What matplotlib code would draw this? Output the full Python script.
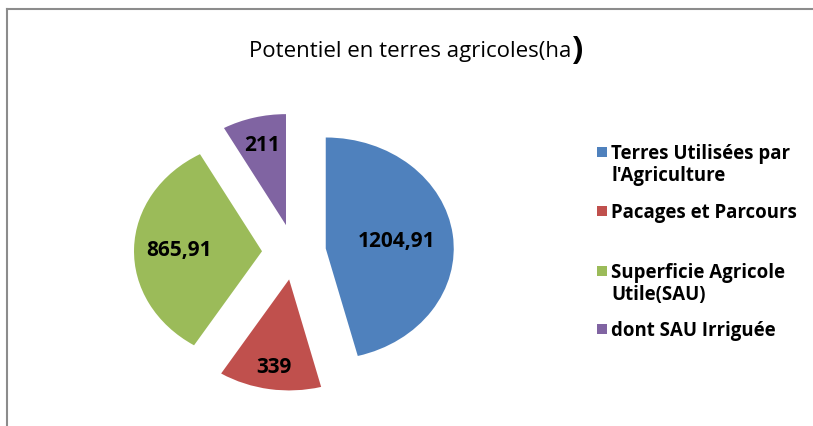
import matplotlib
matplotlib.use("Agg")
import numpy as np
import matplotlib.pyplot as plt
from matplotlib.lines import Line2D
from matplotlib.patches import Rectangle

categories = ["Terres Utilisées par\nl'Agriculture", "Pacages et Parcours",
              "Superficie Agricole\nUtile(SAU)", "dont SAU Irriguée"]
values = [1204.91, 339, 865.91, 211]
value_labels = ["1204,91", "339", "865,91", "211"]
colors = ["#4F81BD", "#C0504D", "#9BBB59", "#8064A2"]

# label placement (fraction of radius from each wedge's apex), Excel-like
label_dist = [0.56, 0.79, 0.65, 0.75]

plt.rcParams['font.family'] = ['Open Sans', 'DejaVu Sans']

W, H = 813, 427
fig = plt.figure(figsize=(W / 100, H / 100), dpi=100)
fig.patch.set_facecolor("white")

# pie axes (elliptical pie like the reference)
cx, cy, rx, ry = 294, 253, 128, 111
xl, yl = 1.6, 1.4
ax = fig.add_axes([(cx - xl * rx) / W, (H - cy - yl * ry) / H, 2 * xl * rx / W, 2 * yl * ry / H])

wedges, _ = ax.pie(values, colors=colors, startangle=90, counterclock=False,
                   explode=[0.25] * 4, radius=1.0)
for w, lab, d in zip(wedges, value_labels, label_dist):
    ang = np.deg2rad((w.theta1 + w.theta2) / 2)
    x0, y0 = w.center
    ax.text(x0 + d * w.r * np.cos(ang), y0 + d * w.r * np.sin(ang), lab,
            ha='center', va='center', fontsize=15, fontweight='bold', color='black')
ax.set_aspect('auto')
ax.set_xlim(-xl, xl)
ax.set_ylim(-yl, yl)
ax.axis('off')

# title
fig.text(571 / W, 1 - 51 / H, "Potentiel en terres agricoles(ha", ha='right', va='center',
         fontsize=16)
fig.text(571 / W, 1 - 50 / H, ")", ha='left', va='center', fontsize=24, fontweight='bold')

# legend (manual, Excel-like spacing)
legend_top = [144, 203, 263, 321]   # pixel y of first text line top
for cat, col, yt in zip(categories, colors, legend_top):
    fig.add_artist(Rectangle((597 / W, 1 - (yt + 14) / H), 10 / W, 10 / H, facecolor=col,
                             edgecolor='none', transform=fig.transFigure))
    fig.text(611 / W, 1 - yt / H, cat, ha='left', va='top', fontsize=13.4,
             fontweight='bold', linespacing=1.12)

# border
fig.add_artist(Line2D([7 / W, 1], [1 - 10 / H, 1 - 10 / H], color='#8c8c8c', lw=1.5,
                      transform=fig.transFigure))
fig.add_artist(Line2D([7 / W, 7 / W], [0, 1 - 10 / H], color='#8c8c8c', lw=1.5,
                      transform=fig.transFigure))

fig.savefig("out.png", dpi=100)
